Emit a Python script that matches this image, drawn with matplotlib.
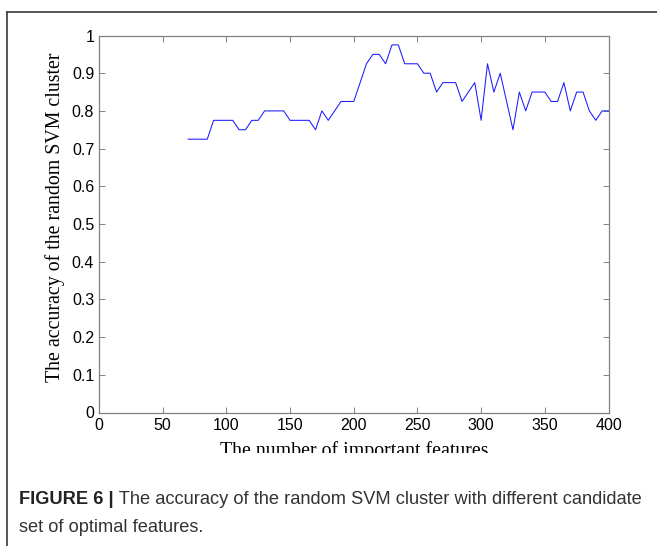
import matplotlib
matplotlib.use("Agg")
import matplotlib.pyplot as plt
from matplotlib.lines import Line2D
from matplotlib.transforms import Bbox

# ---- data ----
n_features = [70, 75, 80, 85, 90, 95, 100, 105, 110, 115, 120, 125, 130, 135, 140,
              145, 150, 155, 160, 165, 170, 175, 180, 185, 190, 195, 200, 205, 210,
              215, 220, 225, 230, 235, 240, 245, 250, 255, 260, 265, 270, 275, 280,
              285, 290, 295, 300, 305, 310, 315, 320, 325, 330, 335, 340, 345, 350,
              355, 360, 365, 370, 375, 380, 385, 390, 395, 400]
accuracy = [0.725, 0.725, 0.725, 0.725, 0.775, 0.775, 0.775, 0.775, 0.75, 0.75,
            0.775, 0.775, 0.8, 0.8, 0.8, 0.8, 0.775, 0.775, 0.775, 0.775, 0.75,
            0.8, 0.775, 0.8, 0.825, 0.825, 0.825, 0.875, 0.925, 0.95, 0.95, 0.925,
            0.975, 0.975, 0.925, 0.925, 0.925, 0.9, 0.9, 0.85, 0.875, 0.875, 0.875,
            0.825, 0.85, 0.875, 0.775, 0.925, 0.85, 0.9, 0.825, 0.75, 0.85, 0.8,
            0.85, 0.85, 0.85, 0.825, 0.825, 0.875, 0.8, 0.85, 0.85, 0.8, 0.775,
            0.8, 0.8]
x_ticks = [0, 50, 100, 150, 200, 250, 300, 350, 400]
y_ticks = [0, 0.1, 0.2, 0.3, 0.4, 0.5, 0.6, 0.7, 0.8, 0.9, 1]
y_tick_labels = ["0", "0.1", "0.2", "0.3", "0.4", "0.5", "0.6", "0.7", "0.8", "0.9", "1"]
x_label = "The number of important features"
y_label = "The accuracy of the random SVM cluster"
caption_bold = "FIGURE 6 |"
caption_rest = " The accuracy of the random SVM cluster with different candidate"
caption_line2 = "set of optimal features."

W, H = 657, 546
fig = plt.figure(figsize=(W / 100, H / 100), dpi=100)
fig.patch.set_facecolor("white")

# outer frame (left and top edges visible)
frame_col = "#3a3a3a"
fig.add_artist(Line2D([7 / W, 7 / W], [0, 1 - 12 / H], transform=fig.transFigure,
                      color=frame_col, lw=1.2))
fig.add_artist(Line2D([7 / W, 1], [1 - 12 / H, 1 - 12 / H], transform=fig.transFigure,
                      color=frame_col, lw=1.2))

ax_left, ax_right, ax_top, ax_bot = 99, 608.5, 35.5, 412.5
ax = fig.add_axes([ax_left / W, 1 - ax_bot / H, (ax_right - ax_left) / W,
                   (ax_bot - ax_top) / H])
ax.plot(n_features, accuracy, color="#1a1aff", lw=0.75)
ax.set_xlim(0, 400)
ax.set_ylim(0, 1)
ax.set_xticks(x_ticks)
ax.set_xticklabels([str(t) for t in x_ticks])
ax.set_yticks(y_ticks)
ax.set_yticklabels(y_tick_labels)

spine_col = "#808080"
for s in ax.spines.values():
    s.set_color(spine_col)
    s.set_linewidth(0.9)
ax.tick_params(which="both", direction="in", length=4, width=0.7, color=spine_col,
               top=True, right=True, labelsize=11.5, labelcolor="black")
ax.tick_params(axis="x", pad=4)
ax.tick_params(axis="y", pad=3.5)
for lab in ax.get_xticklabels() + ax.get_yticklabels():
    lab.set_fontfamily("Liberation Sans")

xl = ax.set_xlabel(x_label, fontfamily="Liberation Serif", fontsize=14.3, color="black")
ax.xaxis.set_label_coords(0.5, (ax_bot - 441) / (ax_bot - ax_top))
xl.set_clip_box(Bbox.from_extents(0, H - 453, W, H))
xl.set_clip_on(True)

yl = ax.set_ylabel(y_label, fontfamily="Liberation Serif", fontsize=14.3, color="black")
yl.set_verticalalignment("center")
ax.yaxis.set_label_coords((55 - ax_left) / (ax_right - ax_left),
                          (ax_bot - 217) / (ax_bot - ax_top))

# caption
cap_col = "#333333"
cap_size = 13.15
t1 = fig.text(19 / W, 1 - 500 / H, caption_bold, fontfamily="Liberation Sans",
              fontweight="bold", fontsize=cap_size, color="#222222", va="center", ha="left")
fig.canvas.draw()
bb = t1.get_window_extent()
fig.text(bb.x1 / W, 1 - 500 / H, caption_rest, fontfamily="Liberation Sans",
         fontsize=cap_size, color=cap_col, va="center", ha="left")
fig.text(19 / W, 1 - 527 / H, caption_line2, fontfamily="Liberation Sans",
         fontsize=cap_size, color=cap_col, va="center", ha="left")

fig.savefig("out.png", dpi=100)
